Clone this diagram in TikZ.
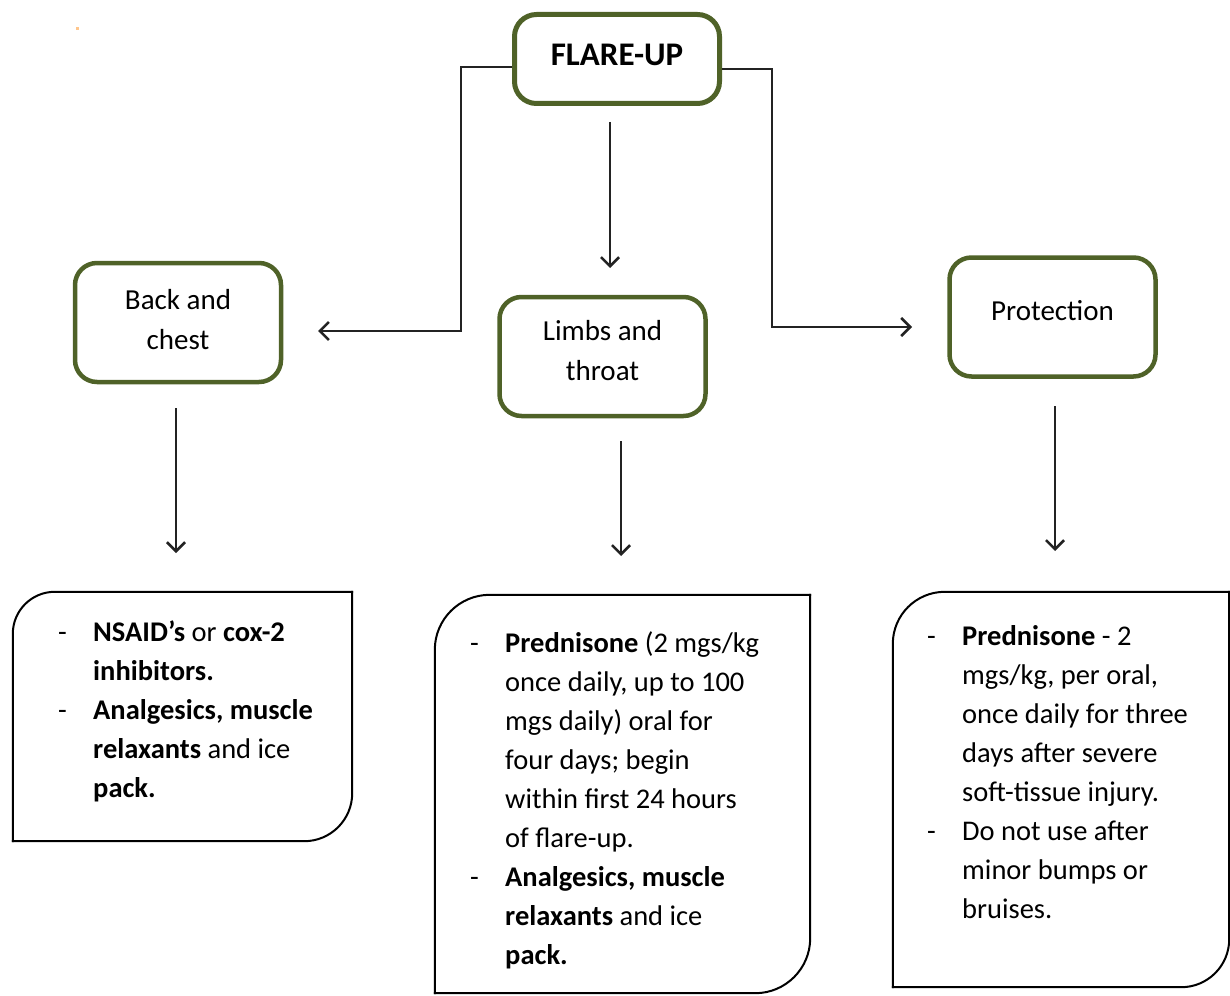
\documentclass[tikz,border=0pt]{standalone}
\usepackage{fontspec}
\setmainfont{Carlito}
\usetikzlibrary{arrows.meta,positioning}
\definecolor{boxgreen}{RGB}{79,98,40}
\definecolor{conncol}{RGB}{35,35,35}
\newcommand\mydsh{\makebox[35pt][l]{-}}
\newcommand\myind{\hspace*{35pt}}
\begin{document}
\begin{tikzpicture}[x=1pt,y=-1pt,
  greenbox/.style={draw=boxgreen,line width=4.5pt,rounded corners=22pt,
    minimum width=206pt,minimum height=119pt,align=center,inner sep=0pt,
    font=\fontsize{29}{40}\selectfont},
  conn/.style={draw=conncol,line width=2.6pt,
    -{Straight Barb[length=9pt,width=18pt,line width=2.6pt]}},
  listbox/.style={line width=2pt,line cap=rect,line join=miter},
  listtext/.style={anchor=north west,inner sep=0pt,align=left,
    font=\fontsize{28.5}{39}\selectfont}]
\useasboundingbox (0,0) rectangle (1230,995);
% small orange mark
\fill[orange!45] (76,27) rectangle (79,30);
% top node
\node[draw=boxgreen,line width=5pt,rounded corners=22pt,minimum width=205pt,
  minimum height=89pt,inner sep=0pt,text depth=9pt,
  font=\fontsize{33}{40}\selectfont\bfseries] (flare) at (617,59) {FLARE-UP};
% second row
\node[greenbox,text depth=6pt] (back) at (178,322.5) {Back and\\chest};
\node[greenbox,text depth=12pt] (limbs) at (602.5,356.5) {Limbs and\\throat};
\node[greenbox,text depth=14pt] (prot) at (1052.5,317) {Protection};
% connector end points
\coordinate (backin) at (318,331);
\coordinate (protin) at (912,327);
\coordinate (m1) at (610,122);
\coordinate (m2) at (610,268);
\coordinate (l1) at (176,408);
\coordinate (l2) at (176,553);
\coordinate (c1) at (621,441);
\coordinate (c2) at (621,556);
\coordinate (r1) at (1055,406);
\coordinate (r2) at (1055,551);
% connectors
\draw[conn] ([yshift=-8pt]flare.west) -| (461,331) -- (backin);
\draw[conn] ([yshift=-10pt]flare.east) -| (772,327) -- (protin);
\draw[conn] (m1) -- (m2);
\draw[conn] (l1) -- (l2);
\draw[conn] (c1) -- (c2);
\draw[conn] (r1) -- (r2);
% bottom boxes (outline nodes)
\node[inner sep=0pt,minimum width=339pt,minimum height=249pt] (b1) at (182.5,716.5) {};
\node[inner sep=0pt,minimum width=375pt,minimum height=398pt] (b2) at (622.5,794) {};
\node[inner sep=0pt,minimum width=336pt,minimum height=395pt] (b3) at (1061,789.5) {};
\draw[listbox,rounded corners=42pt] (b1.south west) -- (b1.north west) -- (b1.north east);
\draw[listbox,rounded corners=48pt] (b1.north east) -- (b1.south east) -- (b1.south west);
\draw[listbox,rounded corners=55pt] (b2.south west) -- (b2.north west) -- (b2.north east);
\draw[listbox,rounded corners=55pt] (b2.north east) -- (b2.south east) -- (b2.south west);
\draw[listbox,rounded corners=52pt] (b3.south west) -- (b3.north west) -- (b3.north east);
\draw[listbox,rounded corners=48pt] (b3.north east) -- (b3.south east) -- (b3.south west);
% texts
\node[listtext] (t1) at (58,613.7) {\strut\mydsh\textbf{NSAID’s} or \textbf{cox-2}\\
\myind\textbf{inhibitors.}\\
\mydsh\textbf{Analgesics, muscle}\\
\myind\textbf{relaxants} and ice\\
\myind\textbf{pack.}};
\node[listtext] (t2) at (470,624.7) {\strut\mydsh\textbf{Prednisone} (2 mgs/kg\\
\myind once daily, up to 100\\
\myind mgs daily) oral for\\
\myind four days; begin\\
\myind within first 24 hours\\
\myind of flare-up.\\
\mydsh\textbf{Analgesics, muscle}\\
\myind\textbf{relaxants} and ice\\
\myind\textbf{pack.}};
\node[listtext] (t3) at (927,617.7) {\strut\mydsh\textbf{Prednisone} - 2\\
\myind mgs/kg, per oral,\\
\myind once daily for three\\
\myind days after severe\\
\myind soft-tissue injury.\\
\mydsh Do not use after\\
\myind minor bumps or\\
\myind bruises.};
\end{tikzpicture}
\end{document}
